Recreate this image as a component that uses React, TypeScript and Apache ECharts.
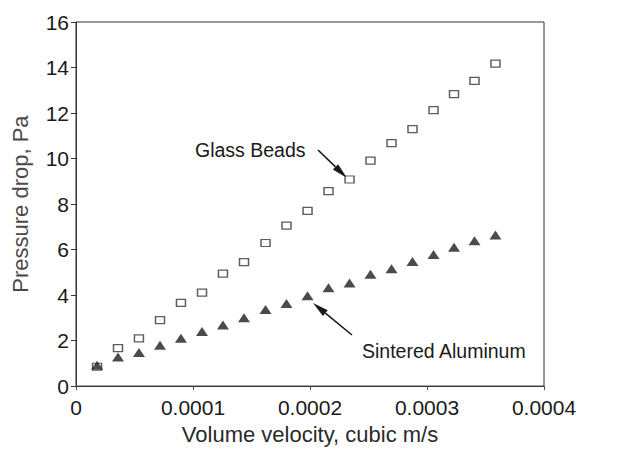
import React, { useEffect, useRef } from "react";
import * as echarts from "echarts";

const volumeVelocity = [
  0.0000180, 0.0000359, 0.0000538, 0.0000718, 0.0000897, 0.0001077, 0.0001256,
  0.0001436, 0.0001620, 0.0001799, 0.0001979, 0.0002158, 0.0002338, 0.0002517,
  0.0002697, 0.0002876, 0.0003056, 0.0003231, 0.0003406, 0.0003585,
];
const glassBeads = [
  0.85, 1.67, 2.1, 2.9, 3.66, 4.11, 4.94, 5.45, 6.29, 7.05, 7.7, 8.57, 9.08,
  9.91, 10.68, 11.29, 12.13, 12.83, 13.41, 14.17,
];
const sinteredAluminum = [
  0.92, 1.28, 1.48, 1.79, 2.1, 2.4, 2.68, 3.0, 3.37, 3.63, 3.97, 4.32, 4.53,
  4.92, 5.16, 5.48, 5.78, 6.1, 6.39, 6.64,
];
const xTicks = [0, 0.0001, 0.0002, 0.0003, 0.0004];
const yTicks = [0, 2, 4, 6, 8, 10, 12, 14, 16];

const FONT = "'Liberation Sans', Arial, Helvetica, sans-serif";

function arrow(tail: [number, number], tip: [number, number]) {
  const dx = tip[0] - tail[0];
  const dy = tip[1] - tail[1];
  const len = Math.sqrt(dx * dx + dy * dy);
  const ux = dx / len;
  const uy = dy / len;
  const headLen = 16;
  const half = 3.8;
  const bx = tip[0] - ux * headLen;
  const by = tip[1] - uy * headLen;
  const px = -uy * half;
  const py = ux * half;
  return [
    {
      type: "line",
      shape: { x1: tail[0], y1: tail[1], x2: bx, y2: by },
      style: { stroke: "#1a1a1a", lineWidth: 1.6 },
    },
    {
      type: "polygon",
      shape: {
        points: [
          [tip[0], tip[1]],
          [bx + px, by + py],
          [bx - px, by - py],
        ],
      },
      style: { fill: "#1a1a1a" },
    },
  ];
}

export default function App() {
  const ref = useRef<HTMLDivElement>(null);
  useEffect(() => {
    if (!ref.current) return;
    const chart = echarts.init(ref.current, undefined, { renderer: "svg" });
    const gb = volumeVelocity.map((x, i) => [x, glassBeads[i]]);
    const sa = volumeVelocity.map((x, i) => [x, sinteredAluminum[i]]);
    chart.setOption({
      animation: false,
      backgroundColor: "#ffffff",
      grid: {
        left: 76,
        right: 74,
        top: 22,
        bottom: 60,
        show: true,
        borderColor: "#333",
        borderWidth: 1,
        backgroundColor: "transparent",
      },
      xAxis: {
        type: "value",
        min: xTicks[0],
        max: xTicks[xTicks.length - 1],
        interval: xTicks[1] - xTicks[0],
        name: "Volume velocity, cubic m/s",
        nameLocation: "middle",
        nameGap: 36,
        nameTextStyle: { fontFamily: FONT, fontSize: 22, color: "#2a2a2a" },
        axisLine: { show: true, lineStyle: { color: "#333", width: 1 } },
        axisTick: { show: true, inside: false, length: 4, lineStyle: { color: "#555" } },
        axisLabel: {
          fontFamily: FONT,
          fontSize: 21,
          color: "#1a1a1a",
          margin: 11,
          formatter: (v: number) => (v === 0 ? "0" : v.toFixed(4)),
        },
        splitLine: { show: false },
      },
      yAxis: {
        type: "value",
        min: yTicks[0],
        max: yTicks[yTicks.length - 1],
        interval: yTicks[1] - yTicks[0],
        name: "Pressure drop, Pa",
        nameLocation: "middle",
        nameRotate: 90,
        nameGap: 45,
        nameTextStyle: { fontFamily: FONT, fontSize: 22, color: "#4a4a4a" },
        axisLine: { show: true, lineStyle: { color: "#333", width: 1 } },
        axisTick: { show: true, inside: false, length: 5, lineStyle: { color: "#333" } },
        axisLabel: { fontFamily: FONT, fontSize: 21, color: "#1a1a1a", margin: 7 },
        splitLine: { show: false },
      },
      series: [
        {
          name: "Glass Beads",
          type: "scatter",
          data: gb,
          symbol: "rect",
          symbolSize: [9, 7],
          itemStyle: { color: "#ffffff", borderColor: "#333", borderWidth: 1.3 },
          z: 2,
        },
        {
          name: "Sintered Aluminum",
          type: "scatter",
          data: sa,
          symbol: "triangle",
          symbolSize: [12, 9],
          itemStyle: { color: "#1e1e1e" },
          z: 3,
        },
      ],
      graphic: [
        {
          type: "text",
          left: 195,
          top: 140,
          style: { text: "Glass Beads", font: `19.5px ${FONT}`, fill: "#1a1a1a" },
        },
        {
          type: "text",
          left: 362,
          top: 341,
          style: { text: "Sintered Aluminum", font: `19.5px ${FONT}`, fill: "#1a1a1a" },
        },
        ...arrow([318, 150], [347, 178]),
        ...arrow([352, 335], [313, 303]),
      ],
    });
    return () => chart.dispose();
  }, []);
  return (
    <div
      ref={ref}
      style={{ position: "fixed", left: 0, top: 0, width: 618, height: 450 }}
    />
  );
}
